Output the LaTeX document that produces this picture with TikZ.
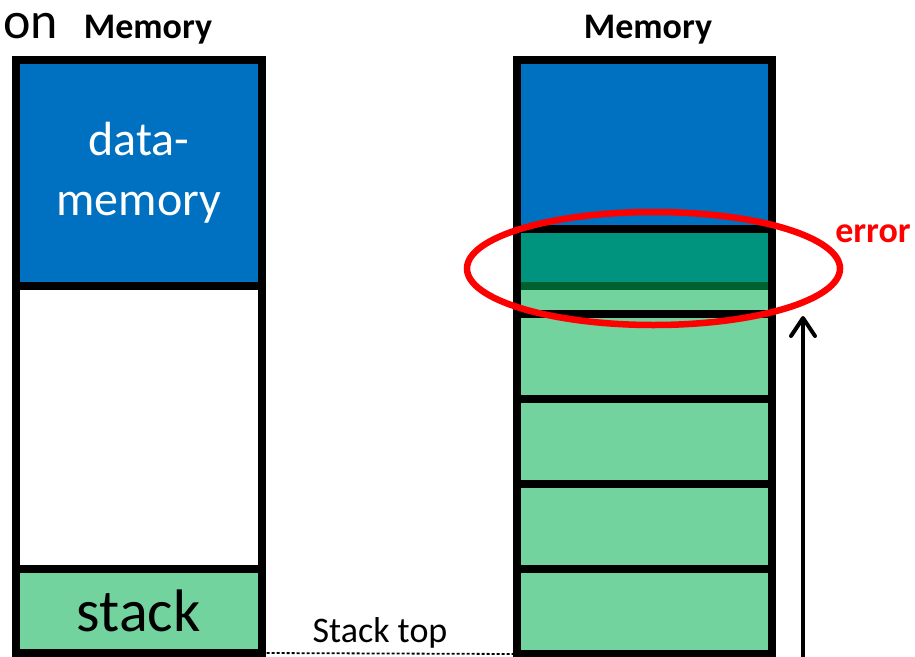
\documentclass[tikz,border=0pt]{standalone}
\usepackage{fontspec}
\setmainfont{Carlito}
\usetikzlibrary{arrows.meta, positioning}
\definecolor{datablue}{HTML}{0070C0}
\definecolor{stackgreen}{HTML}{72D39E}
\definecolor{overlapteal}{HTML}{00937E}
\definecolor{seamgreen}{HTML}{006030}
\definecolor{errorred}{HTML}{FF0000}

\begin{document}
\begin{tikzpicture}[x=1pt, y=-1pt,
  cell/.style={draw=black, line width=8pt, inner sep=0pt, outer sep=0pt, align=center},
  leftcell/.style={cell, minimum width=245.5pt},
  rightcell/.style={cell, minimum width=255pt},
  frame/.style={rightcell, fill=stackgreen, minimum height=85pt},
  title/.style={inner sep=0pt, anchor=base, font=\fontsize{36}{36}\selectfont\bfseries}]
  \useasboundingbox (0,0) rectangle (915,656);

  % Titles
  \node[inner sep=0pt, anchor=base east, font=\fontsize{52}{52}\selectfont] (cut) at (58, 38) {on};
  \node[title] (lefttitle) at (148, 38) {Memory};
  \node[title] (righttitle) at (648, 38) {Memory};

  % Left memory: data, free space, stack
  \node[leftcell, anchor=north, fill=datablue, minimum height=226pt, text=white,
    font=\fontsize{48}{60}\selectfont] (data) at (138.75, 60) {data-\\memory};
  \node[leftcell, below=0pt of data, minimum height=283pt] (free) {};
  \node[leftcell, below=0pt of free, fill=stackgreen, minimum height=84pt,
    font=\fontsize{60}{60}\selectfont] (stack) {stack};

  % Right memory: data and stack frames
  \node[rightcell, anchor=north, fill=datablue, minimum height=169pt] (heap) at (644.5, 60) {};
  \node[frame, below=0pt of heap] (f1) {};
  \foreach \i [evaluate=\i as \j using int(\i-1)] in {2,...,5}
    \node[frame, below=0pt of f\j] (f\i) {};

  % Frame running into the data memory
  \fill[overlapteal] (521, 233) rectangle (768, 286);
  \draw[seamgreen, line width=8pt] (521, 286) -- (768, 286);

  % Stack top marker
  \draw[black, line width=1.8pt, dash pattern=on 3pt off 2pt] (stack.south east) -- (f5.south west);
  \node[inner sep=0pt, anchor=base, font=\fontsize{36}{36}\selectfont] (toplabel) at (380, 642) {Stack top};

  % Growth direction
  \coordinate (growfrom) at (803, 660);
  \coordinate (growto) at (803, 316);
  \draw[line width=4pt, -{Straight Barb[length=18pt, width=24pt, round]}] (growfrom) -- (growto);

  % Collision
  \draw[errorred, line width=6.5pt] (653.5, 268.5) ellipse [x radius=186.5, y radius=56.5];
  \node[inner sep=0pt, anchor=base, errorred, font=\fontsize{36}{36}\selectfont\bfseries] (errlabel) at (873, 242) {error};
\end{tikzpicture}
\end{document}
